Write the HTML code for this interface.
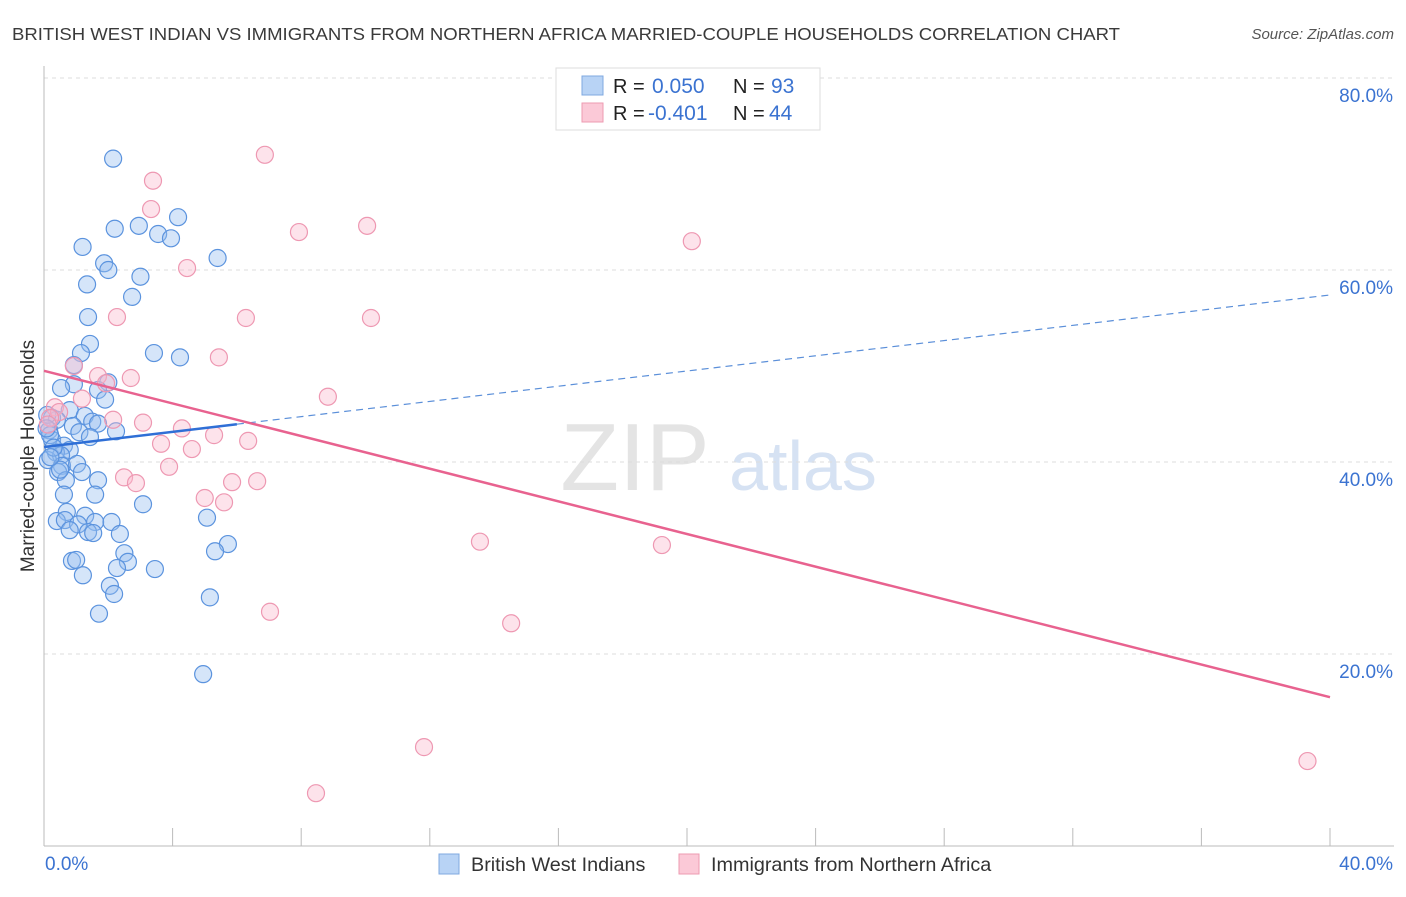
<!DOCTYPE html>
<html><head><meta charset="utf-8"><style>
body{margin:0;background:#fff;font-family:"Liberation Sans",sans-serif;}
svg text{font-family:"Liberation Sans",sans-serif;}
</style></head><body>
<svg id="chart" width="1406" height="892" xmlns="http://www.w3.org/2000/svg">
<text x="12" y="40" font-size="17.5" fill="#3a3a3a" textLength="1108" lengthAdjust="spacingAndGlyphs">BRITISH WEST INDIAN VS IMMIGRANTS FROM NORTHERN AFRICA MARRIED-COUPLE HOUSEHOLDS CORRELATION CHART</text>
<text x="1394" y="39" font-size="15" fill="#555" text-anchor="end" font-style="italic">Source: ZipAtlas.com</text>
<g>
<text x="635" y="490" font-size="96" fill="#e4e4e4" text-anchor="middle" font-family="Liberation Serif,serif">ZIP</text>
<text x="803" y="490" font-size="70" fill="#d6e2f3" text-anchor="middle">atlas</text>
</g>
<g id="grid"></g>
<g id="axes"></g>
<g id="pts"></g>
<g id="lines"></g>
<g>
<rect x="556" y="68" width="264" height="62" fill="#fff" stroke="#ddd"/>
<rect x="582" y="76" width="21" height="19" fill="#b8d3f5" stroke="#7fa8e0"/>
<rect x="582" y="103" width="21" height="19" fill="#fbc9d7" stroke="#ee9bb2"/>
<text x="613" y="93" font-size="20" fill="#222">R =</text><text x="652" y="93" font-size="21" fill="#3b73d1">0.050</text>
<text x="733" y="93" font-size="20" fill="#222">N =</text><text x="771" y="93" font-size="21" fill="#3b73d1">93</text>
<text x="613" y="120" font-size="20" fill="#222">R =</text><text x="648" y="120" font-size="21" fill="#3b73d1">-0.401</text>
<text x="733" y="120" font-size="20" fill="#222">N =</text><text x="769" y="120" font-size="21" fill="#3b73d1">44</text>
</g>
<g>
<rect x="439" y="854" width="20" height="20" fill="#b8d3f5" stroke="#7fa8e0"/>
<text x="471" y="871" font-size="19.8" fill="#333">British West Indians</text>
<rect x="679" y="854" width="20" height="20" fill="#fbc9d7" stroke="#ee9bb2"/>
<text x="711" y="871" font-size="19.8" fill="#333">Immigrants from Northern Africa</text>
</g>
</svg>
<script>
const yTicks=[20,40,60,80];
const xTickLabels=["0.0%","40.0%"];
const blueX=[2.15,2.2,2.95,4.17,3.55,3.95,1.2,1.87,2.0,5.4,3.0,1.34,2.74,1.37,1.43,1.15,3.42,4.23,0.93,2.0,0.93,0.53,1.68,1.9,0.8,1.27,0.25,0.4,1.5,1.68,0.9,0.16,1.1,2.24,1.43,0.25,0.62,0.8,0.37,0.53,0.12,0.56,1.03,0.44,1.18,0.68,1.68,0.62,1.59,3.08,0.71,1.28,0.4,0.65,1.06,1.59,2.1,5.07,0.8,1.37,1.53,2.36,5.72,2.5,5.32,0.87,1.0,2.61,2.27,3.45,1.21,2.05,2.18,5.16,1.71,4.95,0.1,0.19,0.3,0.5,0.08,0.2];
const blueY=[71.6,64.3,64.6,65.5,63.75,63.3,62.4,60.7,60.0,61.25,59.3,58.5,57.2,55.1,52.3,51.35,51.35,50.9,50.1,48.3,48.1,47.7,47.5,46.5,45.4,44.8,44.6,44.4,44.2,44.0,43.75,43.3,43.1,43.2,42.6,42.3,41.7,41.25,41.0,40.7,40.2,39.6,39.8,38.95,38.95,38.1,38.1,36.6,36.6,35.6,34.8,34.4,33.85,33.95,33.5,33.75,33.75,34.2,32.9,32.7,32.6,32.5,31.45,30.5,30.7,29.7,29.8,29.6,28.95,28.85,28.2,27.1,26.25,25.9,24.2,17.9,44.9,42.8,41.5,39.2,43.5,40.5];
const pinkX=[6.87,3.39,3.33,10.05,7.93,20.15,4.45,2.27,6.28,10.17,5.44,0.93,1.68,2.7,1.93,8.83,1.18,0.34,0.47,2.15,3.08,4.29,5.29,3.64,6.35,4.6,3.89,2.49,2.86,5.85,6.63,5.0,5.6,13.56,19.22,7.03,14.53,11.82,8.46,39.3,0.19,0.12];
const pinkY=[72.0,69.3,66.35,64.6,63.95,63.0,60.2,55.1,55.0,55.0,50.9,50.0,48.95,48.75,48.2,46.8,46.6,45.7,45.2,44.4,44.1,43.5,42.8,41.9,42.2,41.35,39.5,38.4,37.8,37.9,38.0,36.25,35.8,31.7,31.35,24.4,23.2,10.3,5.5,8.85,44.6,43.9];
const blueTrend=[41.56,0.396];
const pinkTrend=[49.5,-0.85];
const NS="http://www.w3.org/2000/svg";
const xS=v=>44+v*(1286/40);
const yS=v=>846-v*9.6;
function mk(t,a,p){const e=document.createElementNS(NS,t);for(const k in a)e.setAttribute(k,a[k]);p.appendChild(e);return e;}
const grid=document.getElementById('grid'),axes=document.getElementById('axes'),pts=document.getElementById('pts'),lines=document.getElementById('lines');
yTicks.forEach(t=>{
 const l=mk('line',{x1:44,x2:1394,y1:yS(t),y2:yS(t),stroke:'#ddd','stroke-dasharray':'4,4'},grid);
 
 
 const tx=mk('text',{x:1393,y:yS(t)+24,'font-size':19,fill:'#3b73d1','text-anchor':'end'},axes);
 tx.textContent=t.toFixed(1)+'%';
 
 
});
let a=mk('line',{x1:44,x2:44,y1:66,y2:846,stroke:'#bbb'},axes);


a=mk('line',{x1:44,x2:1394,y1:846,y2:846,stroke:'#bbb'},axes);


for(let i=0;i<=10;i++){const x=44+i*128.6;const tk=mk('line',{x1:x,x2:x,y1:828,y2:846,stroke:'#bbb'},axes);
 
 }
let xl=mk('text',{x:45,y:870,'font-size':19,fill:'#3b73d1'},axes);xl.textContent=xTickLabels[0];


xl=mk('text',{x:1393,y:870,'font-size':19,fill:'#3b73d1','text-anchor':'end'},axes);xl.textContent=xTickLabels[1];


const yt=mk('text',{x:34,y:456,'font-size':19,fill:'#333','text-anchor':'middle',transform:'rotate(-90 34 456)'},axes);yt.textContent='Married-couple Households';


blueX.forEach((x,i)=>{const c=mk('circle',{cx:xS(x),cy:yS(blueY[i]),r:8.5,fill:'rgba(150,190,240,0.4)',stroke:'#5b93de','stroke-width':1.2},pts);
 
 });
pinkX.forEach((x,i)=>{const c=mk('circle',{cx:xS(x),cy:yS(pinkY[i]),r:8.5,fill:'rgba(250,185,205,0.4)',stroke:'#ee98b2','stroke-width':1.2},pts);
 
 });
const bf=x=>blueTrend[0]+blueTrend[1]*x, pf=x=>pinkTrend[0]+pinkTrend[1]*x;
let ln=mk('line',{x1:xS(0),y1:yS(bf(0)),x2:xS(6),y2:yS(bf(6)),stroke:'#2f6fd6','stroke-width':2.5},lines);


ln=mk('line',{x1:xS(6),y1:yS(bf(6)),x2:xS(40),y2:yS(bf(40)),stroke:'#5b8fd9','stroke-width':1.2,'stroke-dasharray':'7,5'},lines);


ln=mk('line',{x1:xS(0),y1:yS(pf(0)),x2:xS(40),y2:yS(pf(40)),stroke:'#e8628f','stroke-width':2.5},lines);


</script>
</body></html>
